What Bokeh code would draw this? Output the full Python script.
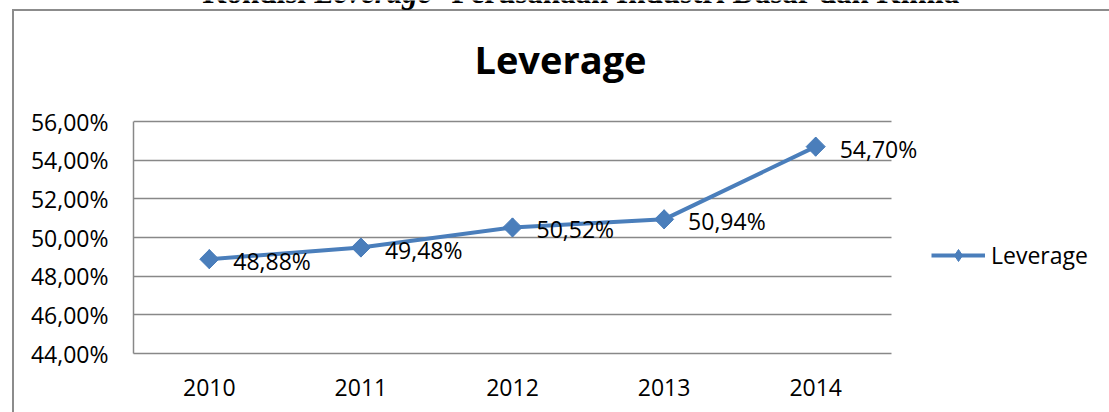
from bokeh.plotting import figure
from bokeh.models import (ColumnDataSource, Label, LabelSet, Legend, LegendItem,
                          FixedTicker, Range1d, BoxAnnotation)
from bokeh.core.properties import value
from bokeh.embed import file_html
from bokeh.resources import INLINE
import math

# ---- data ----
years = [2010, 2011, 2012, 2013, 2014]
year_labels = ["2010", "2011", "2012", "2013", "2014"]
leverage = [48.88, 49.48, 50.52, 50.94, 54.70]
value_labels = ["48,88%", "49,48%", "50,52%", "50,94%", "54,70%"]
y_ticks = [44, 46, 48, 50, 52, 54, 56]
y_tick_labels = ["44,00%", "46,00%", "48,00%", "50,00%", "52,00%", "54,00%", "56,00%"]
chart_title = "Leverage"
series_name = "Leverage"
page_title = ["Kondisi ", "Leverage", " Perusahaan Industri Dasar dan Kimia"]

FONT = "Open Sans"
SERIF = "Liberation Serif"
BLUE = "#4A7EBB"
GRID = "#888888"

W, H = 1109, 412
FL, FB = 133, 353          # frame left / bottom (canvas px)
PX_PER_YEAR = 151.6
PX_PER_UNIT = 232 / 12.0

x0 = years[0] - 0.5
x1 = years[-1] + 0.5
y0, y1 = y_ticks[0], y_ticks[-1]

src = ColumnDataSource(dict(x=years, y=leverage, lab=value_labels))

p = figure(x_range=Range1d(x0, x0 + (W - FL) / PX_PER_YEAR),
           y_range=Range1d(y0, y0 + FB / PX_PER_UNIT),
           width=W, height=H, output_backend="svg", toolbar_location=None,
           min_border_left=FL, min_border_right=0, min_border_top=0,
           min_border_bottom=H - FB)
p.title.visible = False
p.outline_line_color = None
p.background_fill_color = None
p.border_fill_color = None
# outer chart-area border (left and top edges) drawn behind the canvas
p.styles = {"background": "linear-gradient(#8c8c8c, #8c8c8c) 12px 9px / 2px 100% no-repeat, "
                          "linear-gradient(#8c8c8c, #8c8c8c) 12px 9px / 100% 2px no-repeat, #ffffff"}

# axes
p.yaxis.ticker = FixedTicker(ticks=y_ticks)
p.yaxis.major_label_overrides = {t: l for t, l in zip(y_ticks, y_tick_labels)}
p.yaxis.bounds = (y0, y1)
p.xaxis.ticker = FixedTicker(ticks=years)
p.xaxis.major_label_overrides = {t: l for t, l in zip(years, year_labels)}
p.xaxis.bounds = (x0, x1)
for ax in (p.xaxis, p.yaxis):
    ax.major_tick_out = 0
    ax.major_tick_in = 0
    ax.minor_tick_out = 0
    ax.minor_tick_in = 0
    ax.axis_line_color = GRID
    ax.axis_line_width = 1.5
    ax.major_label_text_font = FONT
    ax.major_label_text_font_size = "23px"
    ax.major_label_text_color = "black"
p.yaxis.major_label_standoff = 25
p.xaxis.major_label_standoff = 25

p.xgrid.grid_line_color = None
p.ygrid.grid_line_color = GRID
p.ygrid.grid_line_width = 1.5

# white mask so gridlines stop at the last category
p.add_layout(BoxAnnotation(left=x1, bottom=y0 - 1, top=y1 + 0.5, fill_color="white",
                           fill_alpha=1, line_color=None, level="underlay"))

line = p.line("x", "y", source=src, line_color=BLUE, line_width=4)
# diamond used for the legend glyph (hidden under the square diamonds)
leg_mk = p.scatter("x", "y", source=src, marker="diamond", size=19,
                   fill_color=BLUE, line_color=BLUE)
mk = p.scatter("x", "y", source=src, marker="square", angle=math.pi / 4,
               size=13.5, fill_color=BLUE, line_color=BLUE)

# data labels
p.add_layout(LabelSet(x="x", y="y", text="lab", source=src, x_offset=24,
                      y_offset=-2, text_baseline="middle", text_align="left",
                      text_font=value(FONT), text_font_size=value("23px"),
                      text_color=value("black")))

# chart title
p.add_layout(Label(x=560 - FL, y=FB - 75 + 17, x_units="screen", y_units="screen",
                   text=chart_title, text_align="center",
                   text_baseline="alphabetic", text_font=FONT,
                   text_font_size="38px", text_font_style="bold",
                   text_color="black"))

# page caption above the chart (mostly cut off at the top)
for txt, xpos, style, align in zip(page_title, [202, 314, 967],
                                   ["bold", "bold italic", "bold"],
                                   ["left", "left", "right"]):
    p.add_layout(Label(x=xpos - FL, y=FB - 6 + 14, x_units="screen", y_units="screen",
                       text=txt, text_align=align, text_baseline="alphabetic",
                       text_font=SERIF, text_font_size="31px",
                       text_font_style=style, text_color="black"))

legend = Legend(items=[LegendItem(label=series_name, renderers=[line, leg_mk])],
                location=(931 - FL, 82), padding=0, margin=0,
                border_line_color=None, background_fill_alpha=0,
                glyph_width=54, glyph_height=30, label_height=30,
                label_standoff=6, label_text_font=FONT,
                label_text_font_size="23px", label_text_color="black")
p.add_layout(legend)

open("out.html", "w").write(file_html(p, INLINE))
